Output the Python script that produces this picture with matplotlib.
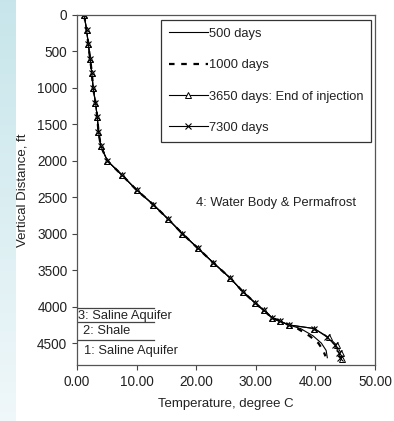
import numpy as np
import matplotlib
matplotlib.use("Agg")
import matplotlib.pyplot as plt

plt.rcParams["font.family"] = ["Liberation Sans", "DejaVu Sans"]

# shared upper part of the profile (all four times overlap here)
depth_top = [0, 200, 400, 600, 800, 1000, 1200, 1400, 1600, 1800, 2000, 2200,
             2400, 2600, 2800, 3000, 3200, 3400, 3600, 3800, 3950, 4050, 4150, 4200, 4250]
temp_top = [1.2, 1.6, 1.9, 2.2, 2.5, 2.7, 3.1, 3.4, 3.6, 4.0, 5.1, 7.6,
            10.0, 12.8, 15.3, 17.7, 20.3, 22.9, 25.6, 27.9, 29.9, 31.3, 32.7, 34.1, 35.5]

# bottom part, different for each time
depth_500 = [4300, 4400, 4500, 4600, 4700]
temp_500 = [37.5, 39.6, 41.0, 41.8, 42.0]
depth_1000 = [4300, 4400, 4500, 4600, 4680]
temp_1000 = [37.0, 39.0, 40.5, 41.3, 41.7]
depth_3650 = [4300, 4420, 4530, 4640, 4720]
temp_3650 = [39.8, 42.2, 43.6, 44.3, 44.5]
depth_7300 = [4300, 4420, 4530, 4640, 4700]
temp_7300 = [39.8, 42.0, 43.3, 44.0, 44.2]

layer_depths = [4020, 4215, 4455]
layer_names = ["3: Saline Aquifer", "2: Shale", "1: Saline Aquifer"]
layer_label_pos = [(0.2, 4125), (1.0, 4340), (1.2, 4605)]

fig = plt.figure(figsize=(3.94, 4.21), dpi=100)

# light blue strip on the left edge
strip = fig.add_axes([0, 0, 15 / 394, 1])
grad = np.linspace(0, 1, 256).reshape(-1, 1)
top_c = np.array([0.78, 0.90, 0.92])
bot_c = np.array([0.94, 0.97, 0.98])
img = top_c + (bot_c - top_c) * grad[:, :, None]
strip.imshow(img, aspect="auto")
strip.axis("off")

ax = fig.add_axes([77 / 394, 1 - 365 / 421, 298 / 394, 350 / 421])

kw = dict(color="black", lw=0.8)
ax.plot(temp_top + temp_500, depth_top + depth_500, label="500 days", **kw)
ax.plot(temp_top + temp_1000, depth_top + depth_1000, label="1000 days",
        color="black", lw=1.6, dashes=(2.5, 3))
ax.plot(temp_top + temp_3650, depth_top + depth_3650, marker="^", ms=4,
        mfc="white", mec="black", mew=0.7, label="3650 days: End of injection", **kw)
ax.plot(temp_top + temp_7300, depth_top + depth_7300, marker="x", ms=4.5,
        mew=0.8, label="7300 days", **kw)

for d in layer_depths:
    ax.plot([0, 13], [d, d], color="#444444", lw=0.9)
for name, (x, y) in zip(layer_names, layer_label_pos):
    ax.text(x, y, name, fontsize=9.3, va="center", ha="left", color="#222222")

ax.text(19.9, 2580, "4: Water Body & Permafrost", fontsize=9.3, va="center", color="#222222")

ax.set_xlim(0, 50)
ax.set_ylim(4800, 0)
ax.set_xticks(np.arange(0, 51, 10))
ax.set_xticklabels([f"{v:.2f}" for v in np.arange(0, 51, 10)])
ax.set_yticks(np.arange(0, 4501, 500))
ax.tick_params(labelsize=9.8, length=3.5, width=0.8, color="#444444", labelcolor="#222222")
for s in ax.spines.values():
    s.set_color("#555555")
    s.set_linewidth(0.9)

ax.set_xlabel("Temperature, degree C", fontsize=9.5, labelpad=7, color="#222222")
ax.set_ylabel("Vertical Distance, ft", fontsize=9.5, labelpad=6, color="#222222")

leg = ax.legend(loc="upper left", bbox_to_anchor=(0.282, 0.986), borderaxespad=0,
                fontsize=9.3, handlelength=3.0, labelspacing=1.5, handletextpad=0.1,
                borderpad=0.6, fancybox=False, edgecolor="#333333", framealpha=1)
leg.get_frame().set_linewidth(0.9)
for t in leg.get_texts():
    t.set_color("#222222")

fig.savefig("out.png", dpi=100)
